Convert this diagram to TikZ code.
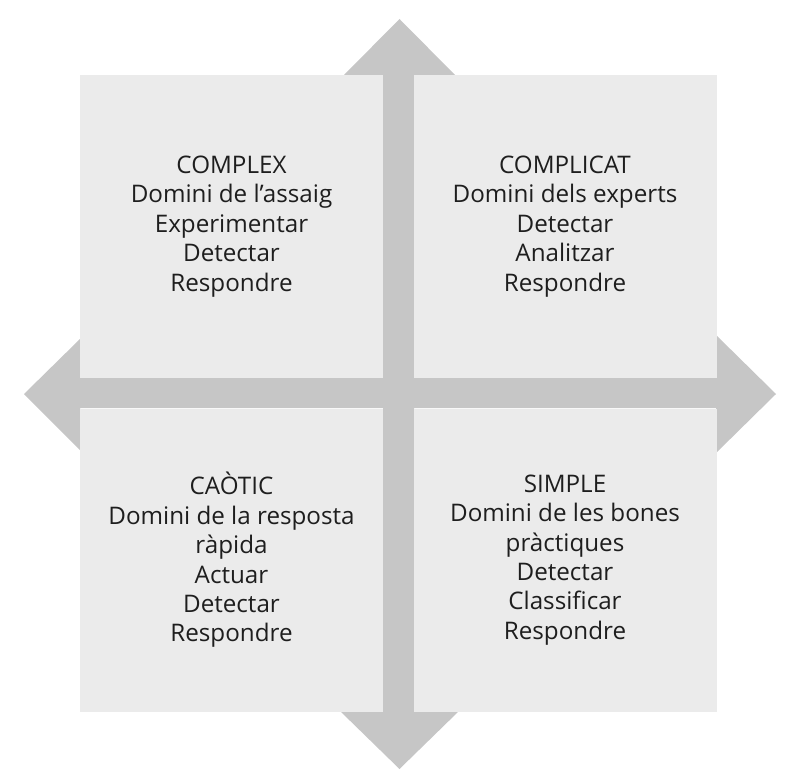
\documentclass[tikz,border=0pt]{standalone}
\usepackage{fontspec}
\setmainfont{Open Sans}
\definecolor{crossgray}{HTML}{C6C6C6}
\definecolor{quadgray}{HTML}{EBEBEB}
\definecolor{txtgray}{HTML}{1E1E1E}
\tikzset{
  quad/.style={fill=quadgray, draw=none, minimum width=303pt, minimum height=303pt, inner sep=0pt,
    align=center, text=txtgray, font=\fontsize{24.2}{29.4}\selectfont},
  crossarrow/.style={fill=crossgray, draw=none}
}
\begin{document}
\begin{tikzpicture}[x=1pt,y=-1pt]
\useasboundingbox (0,0) rectangle (800,773);
% vertical double arrow
\fill[crossarrow] (383,75) -- (344,75) -- (399.5,19) -- (455,75) -- (414,75) -- (414,711) -- (459,711) -- (399.5,769) -- (340,711) -- (383,711) -- cycle;
% horizontal double arrow
\fill[crossarrow] (80,378) -- (80,339) -- (24,394) -- (80,450) -- (80,408) -- (716,408) -- (716,453) -- (776,394) -- (716,335) -- (716,378) -- cycle;
% quadrants
\node[quad] (complex) at (231.5,226.5) {COMPLEX\\Domini de l’assaig\\Experimentar\\Detectar\\Respondre};
\node[quad] (complicat) at (565,226.5) {COMPLICAT\\Domini dels experts\\Detectar\\Analitzar\\Respondre};
\node[quad] (caotic) at (231.5,560) {CAÒTIC\\Domini de la resposta\\ràpida\\Actuar\\Detectar\\Respondre};
\node[quad] (simple) at (565,560) {SIMPLE\\Domini de les bones\\pràctiques\\Detectar\\Classificar\\Respondre};
\end{tikzpicture}
\end{document}
